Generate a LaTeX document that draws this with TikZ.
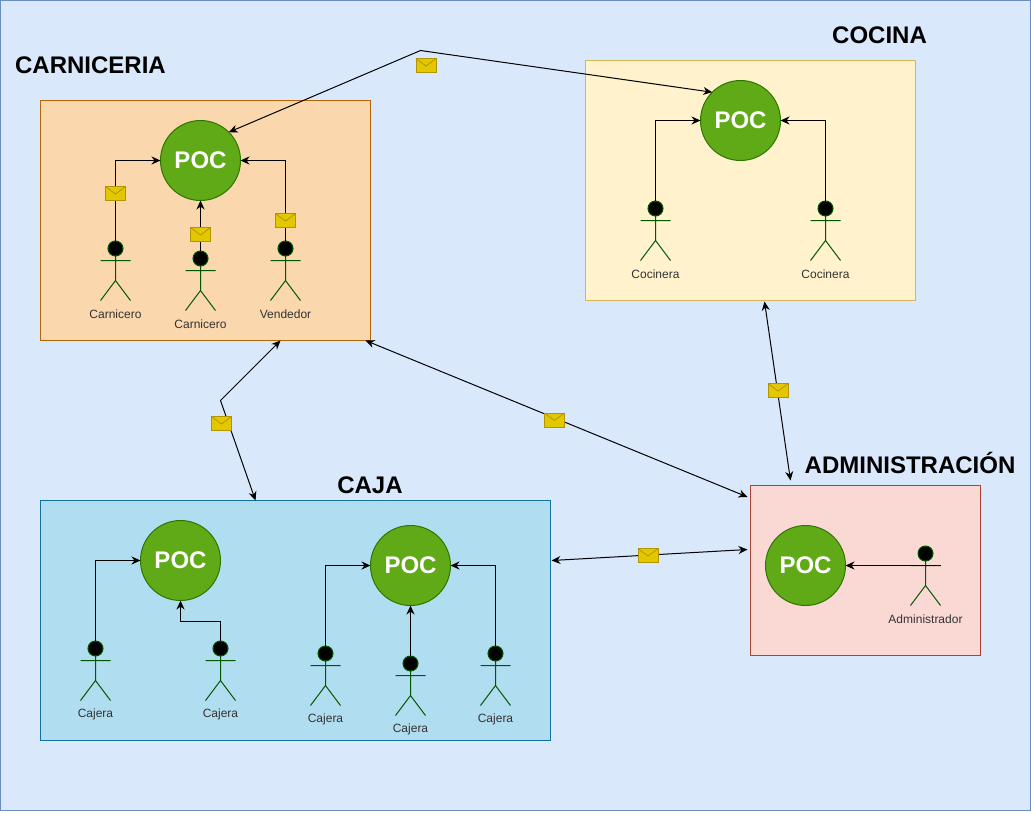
\documentclass[tikz,border=0pt]{standalone}
\usepackage{fontspec}
\setmainfont{Liberation Sans}
\usetikzlibrary{arrows.meta,calc}
\definecolor{pagefill}{HTML}{DAE8FC}\definecolor{pageline}{HTML}{6C8EBF}
\definecolor{carnfill}{HTML}{FAD7AC}\definecolor{carnline}{HTML}{B46504}
\definecolor{cocifill}{HTML}{FFF2CC}\definecolor{ociline}{HTML}{D6B656}
\definecolor{cajafill}{HTML}{B1DDF0}\definecolor{cajaline}{HTML}{10739E}
\definecolor{admfill}{HTML}{FAD9D5}\definecolor{admline}{HTML}{AE4132}
\definecolor{pocfill}{HTML}{60A917}\definecolor{pocline}{HTML}{2D7600}
\definecolor{actline}{HTML}{005700}\definecolor{lbl}{HTML}{333333}
\definecolor{envfill}{HTML}{E3C800}\definecolor{envline}{HTML}{B09500}
\tikzset{
  x=1pt,y=-1pt,
  poc/.style={circle,draw=pocline,fill=pocfill,minimum size=80pt,inner sep=0,outer sep=0,line width=1pt,text=white,font=\bfseries\fontsize{24}{28}\selectfont},
  head/.style={circle,draw=actline,fill=black,minimum size=15pt,inner sep=0,outer sep=0,line width=1pt},
  actlimb/.style={draw=actline,line width=1pt},
  actlabel/.style={text=lbl,font=\fontsize{12}{14}\selectfont,inner sep=0},
  title/.style={font=\bfseries\fontsize{24}{28}\selectfont,inner sep=0,text=black},
  conn/.style={draw=black,line width=1pt,-{Stealth[length=9pt,width=8pt]}},
  biconn/.style={draw=black,line width=1pt,{Stealth[length=9pt,width=8pt]}-{Stealth[length=9pt,width=8pt]}},
  envnode/.style={rectangle,draw=envline,fill=envfill,minimum width=20pt,minimum height=14pt,inner sep=0,outer sep=0,line width=1pt},
  envflap/.style={draw=envline,line width=.8pt},
  zonebox/.style={rectangle,line width=1pt,inner sep=0,outer sep=0},
}
\newcommand{\actorfig}[4]{% name x headY label
  \node[head] (#1) at (#2,#3) {};
  \coordinate (#1arm) at (#2+15,#3+12);
  \draw[actlimb] (#1.south) -- (#2,#3+32) (#2-15,#3+12) -- (#1arm)
    (#2-15,#3+52) -- (#2,#3+32) -- (#2+15,#3+52);
  \node[actlabel] (#1lab) at (#2,#3+66) {#4};
}
\newcommand{\envelope}[3]{% name x y
  \node[envnode] (#1) at (#2,#3) {};
  \draw[envflap] (#1.north west) -- ($(#1.center)+(0,0.5)$) -- (#1.north east);
}
\begin{document}
\begin{tikzpicture}
\useasboundingbox (0,0) rectangle (1031,812);
\node[zonebox,draw=pageline,fill=pagefill,minimum width=1029.5pt,minimum height=810pt] (page) at (515.25,405.5) {};
\node[zonebox,draw=carnline,fill=carnfill,minimum width=330pt,minimum height=240pt] (carn) at (205.5,220.5) {};
\node[zonebox,draw=ociline,fill=cocifill,minimum width=330pt,minimum height=240pt] (coci) at (750.5,180.5) {};
\node[zonebox,draw=cajaline,fill=cajafill,minimum width=510pt,minimum height=240pt] (caja) at (295.5,620.5) {};
\node[zonebox,draw=admline,fill=admfill,minimum width=230pt,minimum height=170pt] (adm) at (865.5,570.5) {};

\node[title] (tcarn) at (90.5,65) {CARNICERIA};
\node[title] (tcoci) at (879.5,35) {COCINA};
\node[title] (tcaja) at (370,485) {CAJA};
\node[title] (tadm) at (910,463) {ADMINISTRACIÓN};

\node[poc] (pcarn) at (200.5,160.5) {POC};
\node[poc] (pcoci) at (740.5,120.5) {POC};
\node[poc] (pcajaa) at (180.5,560.5) {POC};
\node[poc] (pcajab) at (410.5,565.5) {POC};
\node[poc] (padm) at (805.5,565.5) {POC};

\actorfig{ca}{115.5}{248.5}{Carnicero}
\actorfig{cb}{200.5}{258.5}{Carnicero}
\actorfig{cc}{285.5}{248.5}{Vendedor}
\actorfig{coa}{655.5}{208.5}{Cocinera}
\actorfig{cob}{825.5}{208.5}{Cocinera}
\actorfig{ja}{95.5}{648.5}{Cajera}
\actorfig{jb}{220.5}{648.5}{Cajera}
\actorfig{jc}{325.5}{653.5}{Cajera}
\actorfig{jd}{410.5}{663.5}{Cajera}
\actorfig{je}{495.5}{653.5}{Cajera}
\actorfig{ad}{925.5}{553.5}{Administrador}

\draw[conn] (ca.north) |- (pcarn.west);
\draw[conn] (cb.north) -- (pcarn.south);
\draw[conn] (cc.north) |- (pcarn.east);
\draw[conn] (coa.north) |- (pcoci.west);
\draw[conn] (cob.north) |- (pcoci.east);
\draw[conn] (ja.north) |- (pcajaa.west);
\draw[conn] (jb.north) -- ++(0,-20) -| (pcajaa.south);
\draw[conn] (jc.north) |- (pcajab.west);
\draw[conn] (jd.north) -- (pcajab.south);
\draw[conn] (je.north) |- (pcajab.east);
\draw[conn] (adarm) -- (padm.east);

\coordinate (wptop) at (420.5,50.5);
\coordinate (wpleft) at (220.5,400.5);
\draw[biconn] (pcarn.north east) -- (wptop) -- (pcoci.north west);
\draw[biconn] ([xshift=75pt]carn.south) -- (wpleft) -- ([xshift=-40pt]caja.north);
\draw[biconn] ([xshift=160pt]carn.south) -- ([yshift=73.5pt,xshift=-3pt]adm.west);
\draw[biconn] ([xshift=14pt,yshift=-1pt]coci.south) -- ([xshift=-75pt,yshift=5pt]adm.north);
\draw[biconn] ([xshift=1pt,yshift=60pt]caja.east) -- ([xshift=-3pt,yshift=21pt]adm.west);

\envelope{ea}{115.5}{193.5}
\envelope{eb}{200.5}{234.5}
\envelope{ec}{285.5}{220.5}
\envelope{ed}{426}{65.5}
\envelope{ee}{221.5}{423.5}
\envelope{ef}{554.5}{420}
\envelope{eg}{778}{390.5}
\envelope{eh}{648}{555.5}
\end{tikzpicture}
\end{document}
